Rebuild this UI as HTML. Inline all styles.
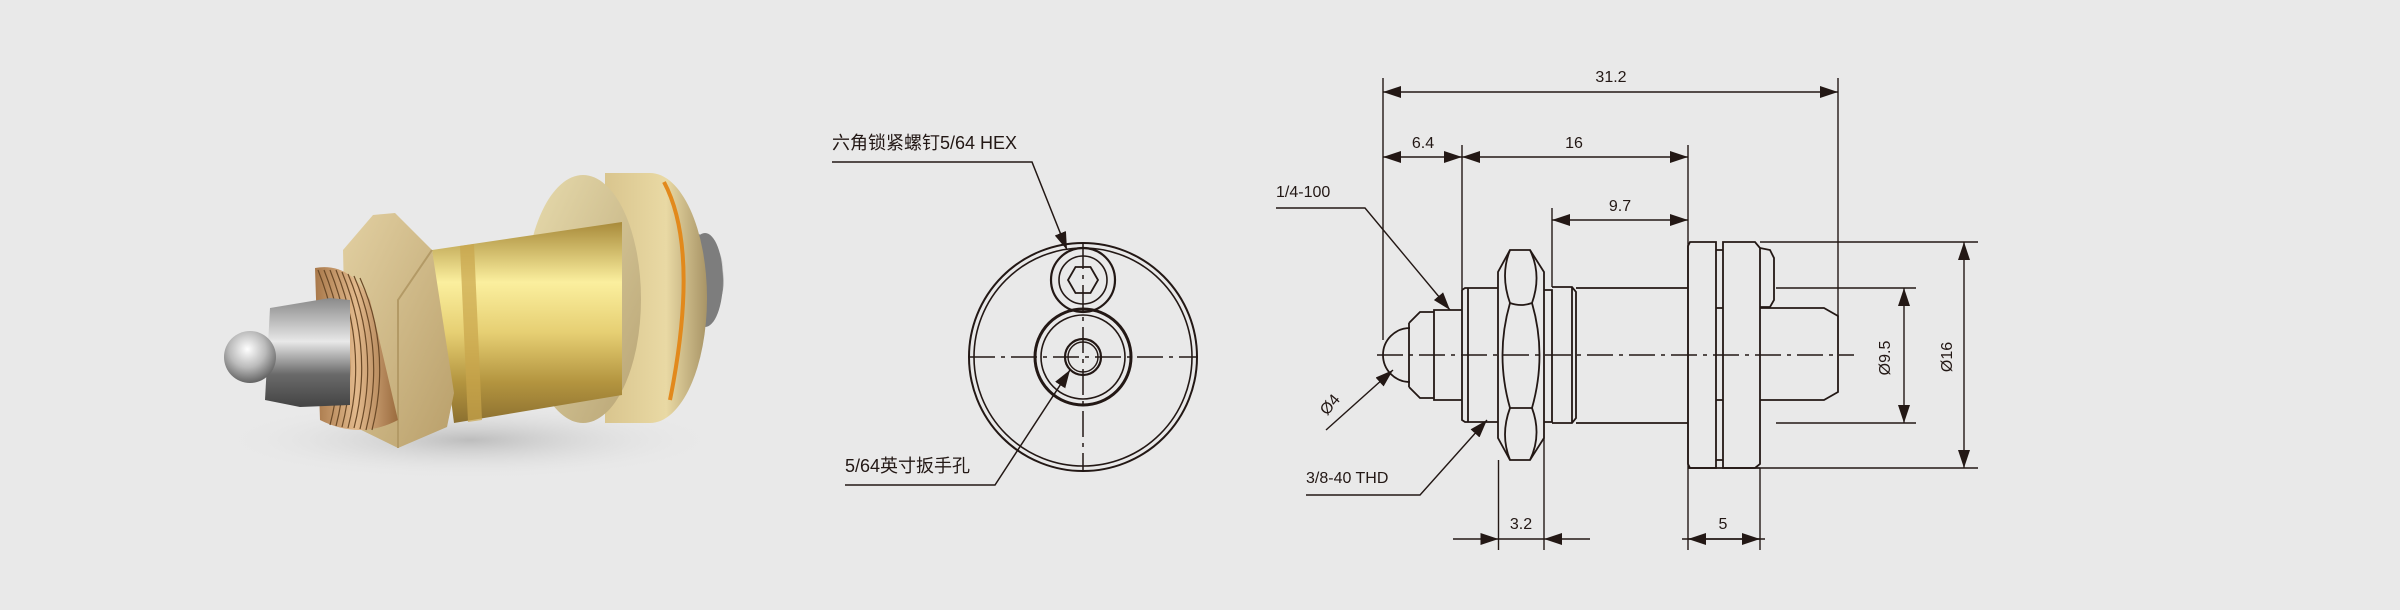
<!DOCTYPE html>
<html><head><meta charset="utf-8">
<style>
html,body{margin:0;padding:0;background:#e9e9e9;}
svg{display:block}
text{font-family:"Liberation Sans","Noto Sans CJK SC",sans-serif;fill:#231815;}
</style></head>
<body>
<svg width="2400" height="610" viewBox="0 0 2400 610" xmlns="http://www.w3.org/2000/svg">
<defs>
<marker id="a" markerUnits="userSpaceOnUse" markerWidth="20" markerHeight="12" refX="18" refY="6" orient="auto-start-reverse"><path d="M0,0 L18,6 L0,12 z" fill="#231815"/></marker>
<linearGradient id="gold" x1="0" y1="0" x2="0" y2="1"><stop offset="0" stop-color="#a88a3a"/><stop offset="0.3" stop-color="#fbef9e"/><stop offset="0.55" stop-color="#e6cf73"/><stop offset="0.8" stop-color="#b3943f"/><stop offset="1" stop-color="#8c7030"/></linearGradient>
<linearGradient id="silver" x1="0" y1="0" x2="0" y2="1"><stop offset="0" stop-color="#8a8a8a"/><stop offset="0.4" stop-color="#e8e8e8"/><stop offset="0.7" stop-color="#6a6a6a"/><stop offset="1" stop-color="#444"/></linearGradient>
<radialGradient id="ball" cx="0.45" cy="0.35" r="0.7"><stop offset="0" stop-color="#fff"/><stop offset="0.5" stop-color="#bbb"/><stop offset="1" stop-color="#555"/></radialGradient>
<linearGradient id="nut" x1="0" y1="0" x2="1" y2="1"><stop offset="0" stop-color="#e2d0a2"/><stop offset="1" stop-color="#b99f6a"/></linearGradient>
<linearGradient id="face" x1="0" y1="0" x2="1" y2="1"><stop offset="0" stop-color="#e8dcae"/><stop offset="1" stop-color="#b8a474"/></linearGradient>
<linearGradient id="rim" x1="0" y1="0" x2="1" y2="0"><stop offset="0" stop-color="#d9c58e"/><stop offset="0.6" stop-color="#e9d9a4"/><stop offset="1" stop-color="#a89466"/></linearGradient>
<linearGradient id="thr" x1="0" y1="0" x2="1" y2="0"><stop offset="0" stop-color="#a8784a"/><stop offset="0.5" stop-color="#e2b98c"/><stop offset="1" stop-color="#9a6b3e"/></linearGradient>
<radialGradient id="sh" cx="0.5" cy="0.5" r="0.5"><stop offset="0" stop-color="#bdbdbd"/><stop offset="1" stop-color="#e9e9e9" stop-opacity="0"/></radialGradient>
</defs>
<rect width="2400" height="610" fill="#e9e9e9"/>

<!-- 3D render -->
<ellipse cx="470" cy="440" rx="250" ry="40" fill="url(#sh)"/>
<path d="M695,233 Q725,240 724,280 Q722,320 690,327 Z" fill="url(#silver)"/>
<ellipse cx="705" cy="280" rx="18" ry="47" fill="#7d7d7d"/>
<path d="M605,173 L650,173 A57,125 0 0 1 650,423 L605,423 Z" fill="url(#rim)"/>
<path d="M664,182 Q700,250 670,400" stroke="#e2891c" stroke-width="4" fill="none"/>
<ellipse cx="583" cy="299" rx="58" ry="124" fill="url(#face)"/>
<path d="M432,250 L622,222 L622,395 L454,423 Z" fill="url(#gold)"/>
<path d="M460,246 L474,244 L482,420 L468,422 Z" fill="#c9a54b" opacity="0.7"/>
<path d="M373,215 L395,213 L432,250 L454,393 L447,427 L398,448 L347,423 L343,250 Z" fill="url(#nut)"/>
<path d="M398,448 L398,300 L432,250" stroke="#b39a66" stroke-width="2" fill="none"/>
<path d="M315,268 Q350,262 370,300 L398,420 Q360,440 320,420 Z" fill="url(#thr)"/>
<g stroke="#6b4a28" stroke-width="1.2" fill="none">
<path d="M318,270 Q350,350 330,425"/><path d="M324,270 Q356,350 336,426"/><path d="M330,270 Q362,350 342,427"/><path d="M336,270 Q368,350 348,428"/><path d="M342,272 Q374,350 354,428"/><path d="M348,274 Q380,350 360,429"/><path d="M354,276 Q386,350 366,430"/><path d="M360,278 Q392,350 372,430"/>
</g>
<path d="M270,308 L330,298 L350,300 L350,405 L300,407 L265,400 Z" fill="url(#silver)"/>
<circle cx="250" cy="357" r="26" fill="url(#ball)"/>

<!-- Front view -->
<g stroke="#231815" fill="none">
<circle cx="1083" cy="357" r="114" stroke-width="2"/>
<circle cx="1083" cy="357" r="109" stroke-width="1.6"/>
<circle cx="1083" cy="357" r="48" stroke-width="3"/>
<circle cx="1083" cy="357" r="42" stroke-width="1.6"/>
<circle cx="1083" cy="357" r="18" stroke-width="2.2"/>
<circle cx="1083" cy="357" r="15" stroke-width="1.4"/>
<circle cx="1083" cy="280" r="32" stroke-width="2.2"/>
<circle cx="1083" cy="280" r="24" stroke-width="1.6"/>
<polygon points="1098,280 1090.5,267 1075.5,267 1068,280 1075.5,293 1090.5,293" stroke-width="1.8"/>
<line x1="969" y1="357" x2="1198" y2="357" stroke-width="1.5" stroke-dasharray="26,6,4,6"/>
<line x1="1083" y1="243" x2="1083" y2="471" stroke-width="1.5" stroke-dasharray="26,6,4,6"/>
<polyline points="832,162 1032,162 1067,250" stroke-width="1.5" marker-end="url(#a)"/>
<polyline points="845,485 995,485 1070,370" stroke-width="1.5" marker-end="url(#a)"/>
</g>
<text x="832" y="149" font-size="18">六角锁紧螺钉5/64 HEX</text>
<text x="845" y="472" font-size="18">5/64英寸扳手孔</text>

<!-- Side view -->
<g stroke="#231815" fill="none" stroke-width="1.8">
<path d="M1410,328 A27,27 0 0 0 1410,382"/>
<path d="M1409,323 L1420,312 L1434,312 L1434,310 L1462,310 M1409,387 L1420,398 L1434,398 L1434,400 L1462,400 M1409,323 L1409,387 M1434,312 L1434,398"/>
<path d="M1462,290 L1465,288 L1498,288 M1462,290 L1462,420 L1465,422 L1498,422 M1468,288 L1468,422"/>
<path d="M1510,250 L1530,250 L1544,272 L1544,438 L1530,460 L1510,460 L1498,438 L1498,272 Z"/>
<path d="M1510,250 Q1500,275 1510,303 Q1521,307 1532,303 Q1542,275 1530,250"/>
<path d="M1510,303 Q1495,355 1510,408 M1532,303 Q1547,355 1532,408 M1510,408 L1532,408"/>
<path d="M1510,460 Q1500,435 1510,408 M1530,460 Q1542,435 1532,408"/>
<path d="M1544,290 L1552,290 L1552,422 L1544,422"/>
<path d="M1552,287 L1572,287 L1576,292 L1576,418 L1572,423 L1552,423 M1572,287 L1572,423"/>
<path d="M1576,288 L1688,288 M1576,423 L1688,423"/>
<path d="M1690,242 L1716,242 L1716,468 L1690,468 L1688,464 L1688,246 Z"/>
<path d="M1723,242 L1755,242 L1760,248 L1760,464 L1755,468 L1723,468 Z"/>
<path d="M1716,250 L1723,250 M1716,308 L1723,308 M1716,400 L1723,400 M1716,460 L1723,460"/>
<path d="M1760,248 L1770,250 L1774,258 L1774,300 L1770,307 L1760,307"/>
<path d="M1760,308 L1824,308 L1838,316 L1838,392 L1824,400 L1760,400"/>
<path d="M1688,468 L1760,468"/>
</g>
<g stroke="#231815" fill="none" stroke-width="1.4">
<line x1="1377" y1="355" x2="1854" y2="355" stroke-dasharray="26,6,4,6"/>
<line x1="1383" y1="78" x2="1383" y2="340"/>
<line x1="1838" y1="78" x2="1838" y2="317"/>
<line x1="1462" y1="145" x2="1462" y2="290"/>
<line x1="1688" y1="145" x2="1688" y2="550"/>
<line x1="1552" y1="208" x2="1552" y2="287"/>
<line x1="1498.5" y1="460" x2="1498.5" y2="550"/>
<line x1="1544" y1="438" x2="1544" y2="550"/>
<line x1="1760" y1="468" x2="1760" y2="550"/>
<line x1="1776" y1="288" x2="1916" y2="288"/>
<line x1="1776" y1="423" x2="1916" y2="423"/>
<line x1="1760" y1="242" x2="1978" y2="242"/>
<line x1="1760" y1="468" x2="1978" y2="468"/>
<line x1="1383" y1="92" x2="1838" y2="92" marker-start="url(#a)" marker-end="url(#a)"/>
<line x1="1383" y1="157" x2="1462" y2="157" marker-start="url(#a)" marker-end="url(#a)"/>
<line x1="1462" y1="157" x2="1688" y2="157" marker-start="url(#a)" marker-end="url(#a)"/>
<line x1="1552" y1="220" x2="1688" y2="220" marker-start="url(#a)" marker-end="url(#a)"/>
<line x1="1904" y1="288" x2="1904" y2="423" marker-start="url(#a)" marker-end="url(#a)"/>
<line x1="1964" y1="242" x2="1964" y2="468" marker-start="url(#a)" marker-end="url(#a)"/>
<line x1="1453" y1="539" x2="1498.5" y2="539" marker-end="url(#a)"/>
<line x1="1590" y1="539" x2="1544" y2="539" marker-end="url(#a)"/>
<line x1="1498.5" y1="539" x2="1544" y2="539"/>
<line x1="1682" y1="539" x2="1765" y2="539"/>
<line x1="1724" y1="539" x2="1688" y2="539" marker-end="url(#a)"/>
<line x1="1724" y1="539" x2="1760" y2="539" marker-end="url(#a)"/>
<polyline points="1276,208 1365,208 1450,310" marker-end="url(#a)"/>
<line x1="1326" y1="430" x2="1393" y2="370" marker-end="url(#a)"/>
<polyline points="1306,495 1420,495 1487,420" marker-end="url(#a)"/>
</g>
<g font-size="16" text-anchor="middle">
<text x="1611" y="82">31.2</text>
<text x="1423" y="148">6.4</text>
<text x="1574" y="148">16</text>
<text x="1620" y="211">9.7</text>
<text x="1521" y="529">3.2</text>
<text x="1723" y="529">5</text>
<text transform="translate(1890,358) rotate(-90)">Ø9.5</text>
<text transform="translate(1952,357) rotate(-90)">Ø16</text>
<text transform="translate(1334,408) rotate(-50)">Ø4</text>
</g>
<text x="1276" y="197" font-size="16">1/4-100</text>
<text x="1306" y="483" font-size="16">3/8-40 THD</text>
</svg>
</body></html>
